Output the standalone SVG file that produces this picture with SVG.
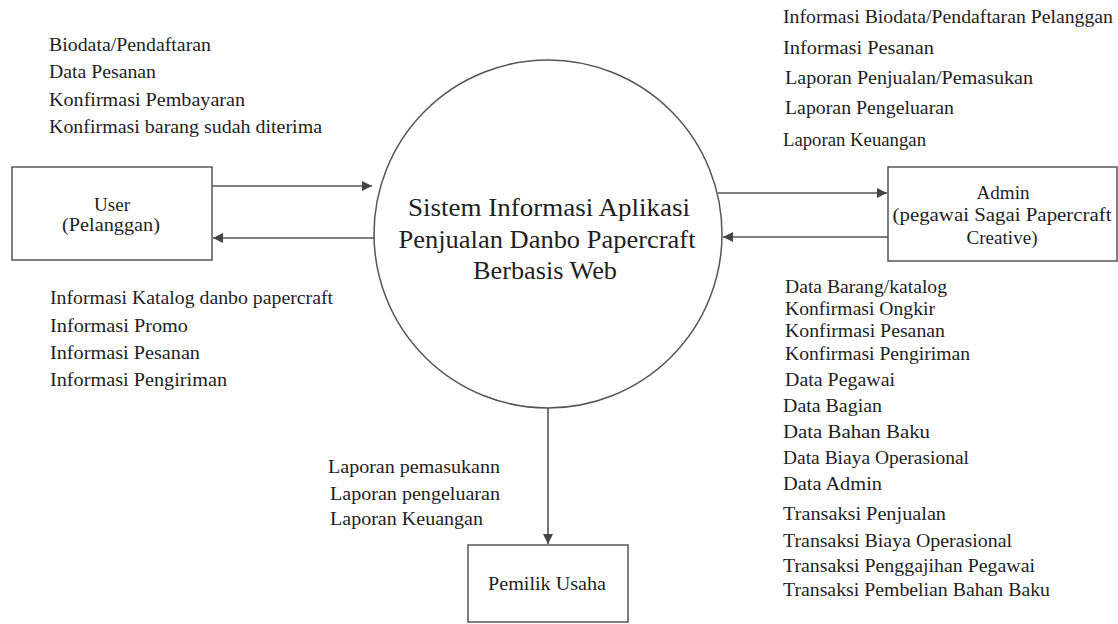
<svg xmlns="http://www.w3.org/2000/svg" width="1118" height="624" viewBox="0 0 1118 624">
  <style>
    .box { fill: #ffffff; stroke: #555555; stroke-width: 1.5; }
    .proc { fill: #ffffff; stroke: #555555; stroke-width: 1.5; }
    .flow { fill: none; stroke: #555555; stroke-width: 1.6; marker-end: url(#arrow); }
    text { font-family: "Liberation Serif", "Times New Roman", serif; fill: #1e1e1e; }
    .lbl { font-size: 19px; }
    .name { font-size: 18.5px; text-anchor: middle; }
    .title { font-size: 25px; text-anchor: middle; }
  </style>
  <defs>
    <marker id="arrow" viewBox="0 0 10 10" refX="10" refY="5" markerWidth="10" markerHeight="10" markerUnits="userSpaceOnUse" orient="auto">
      <path d="M0,0 L10,5 L0,10 z" fill="#444444"/>
    </marker>
  </defs>
  <rect width="1118" height="624" fill="#ffffff"/>

  <!-- connectors -->
  <g id="connectors">
    <line class="flow" x1="212" y1="186" x2="372" y2="186"/>
    <line class="flow" x1="374" y1="238" x2="213" y2="238"/>
    <line class="flow" x1="718" y1="193" x2="887" y2="193"/>
    <line class="flow" x1="888" y1="237" x2="723" y2="237"/>
    <line class="flow" x1="548" y1="408" x2="548" y2="544"/>
  </g>

  <!-- central process -->
  <g id="process">
    <circle class="proc" cx="548" cy="234" r="174"/>
    <text class="title" x="549" y="216" textLength="282" lengthAdjust="spacingAndGlyphs">Sistem Informasi Aplikasi</text>
    <text class="title" x="547" y="248" textLength="297" lengthAdjust="spacingAndGlyphs">Penjualan Danbo Papercraft</text>
    <text class="title" x="545" y="279" textLength="144" lengthAdjust="spacingAndGlyphs">Berbasis Web</text>
  </g>

  <!-- external entities -->
  <g id="user">
    <rect class="box" x="12" y="167" width="200" height="93"/>
    <text class="name" x="112" y="211" textLength="36" lengthAdjust="spacingAndGlyphs">User</text>
    <text class="name" x="111" y="231" textLength="98" lengthAdjust="spacingAndGlyphs">(Pelanggan)</text>
  </g>

  <g id="admin">
    <rect class="box" x="888" y="167" width="229" height="94"/>
    <text class="name" x="1003" y="199" textLength="53" lengthAdjust="spacingAndGlyphs">Admin</text>
    <text class="name" x="1002" y="221" textLength="219" lengthAdjust="spacingAndGlyphs">(pegawai Sagai Papercraft</text>
    <text class="name" x="1002" y="244" textLength="71" lengthAdjust="spacingAndGlyphs">Creative)</text>
  </g>

  <g id="pemilik">
    <rect class="box" x="468" y="545" width="160" height="77"/>
    <text class="name" x="547" y="590" textLength="118" lengthAdjust="spacingAndGlyphs">Pemilik Usaha</text>
  </g>

  <!-- data flow labels -->
  <g id="label-user-in">
    <text class="lbl" x="49" y="51" textLength="162" lengthAdjust="spacingAndGlyphs">Biodata/Pendaftaran</text>
    <text class="lbl" x="49" y="78" textLength="107" lengthAdjust="spacingAndGlyphs">Data Pesanan</text>
    <text class="lbl" x="49" y="106" textLength="196" lengthAdjust="spacingAndGlyphs">Konfirmasi Pembayaran</text>
    <text class="lbl" x="49" y="133" textLength="273" lengthAdjust="spacingAndGlyphs">Konfirmasi barang sudah diterima</text>
  </g>

  <g id="label-user-out">
    <text class="lbl" x="50" y="304" textLength="283" lengthAdjust="spacingAndGlyphs">Informasi Katalog danbo papercraft</text>
    <text class="lbl" x="50" y="332" textLength="138" lengthAdjust="spacingAndGlyphs">Informasi Promo</text>
    <text class="lbl" x="50" y="359" textLength="150" lengthAdjust="spacingAndGlyphs">Informasi Pesanan</text>
    <text class="lbl" x="50" y="386" textLength="177" lengthAdjust="spacingAndGlyphs">Informasi Pengiriman</text>
  </g>

  <g id="label-admin-out">
    <text class="lbl" x="783" y="23" textLength="330" lengthAdjust="spacingAndGlyphs">Informasi Biodata/Pendaftaran Pelanggan</text>
    <text class="lbl" x="783" y="54" textLength="151" lengthAdjust="spacingAndGlyphs">Informasi Pesanan</text>
    <text class="lbl" x="785" y="84" textLength="248" lengthAdjust="spacingAndGlyphs">Laporan Penjualan/Pemasukan</text>
    <text class="lbl" x="785" y="114" textLength="169" lengthAdjust="spacingAndGlyphs">Laporan Pengeluaran</text>
    <text class="lbl" x="783" y="146" textLength="143" lengthAdjust="spacingAndGlyphs">Laporan Keuangan</text>
  </g>

  <g id="label-admin-in">
    <text class="lbl" x="785" y="293" textLength="162" lengthAdjust="spacingAndGlyphs">Data Barang/katalog</text>
    <text class="lbl" x="785" y="315" textLength="150" lengthAdjust="spacingAndGlyphs">Konfirmasi Ongkir</text>
    <text class="lbl" x="785" y="337" textLength="160" lengthAdjust="spacingAndGlyphs">Konfirmasi Pesanan</text>
    <text class="lbl" x="785" y="360" textLength="185" lengthAdjust="spacingAndGlyphs">Konfirmasi Pengiriman</text>
    <text class="lbl" x="785" y="386" textLength="110" lengthAdjust="spacingAndGlyphs">Data Pegawai</text>
    <text class="lbl" x="783" y="412" textLength="99" lengthAdjust="spacingAndGlyphs">Data Bagian</text>
    <text class="lbl" x="783" y="438" textLength="147" lengthAdjust="spacingAndGlyphs">Data Bahan Baku</text>
    <text class="lbl" x="783" y="464" textLength="186" lengthAdjust="spacingAndGlyphs">Data Biaya Operasional</text>
    <text class="lbl" x="783" y="490" textLength="99" lengthAdjust="spacingAndGlyphs">Data Admin</text>
    <text class="lbl" x="783" y="520" textLength="163" lengthAdjust="spacingAndGlyphs">Transaksi Penjualan</text>
    <text class="lbl" x="783" y="547" textLength="229" lengthAdjust="spacingAndGlyphs">Transaksi Biaya Operasional</text>
    <text class="lbl" x="783" y="572" textLength="252" lengthAdjust="spacingAndGlyphs">Transaksi Penggajihan Pegawai</text>
    <text class="lbl" x="783" y="596" textLength="267" lengthAdjust="spacingAndGlyphs">Transaksi Pembelian Bahan Baku</text>
  </g>

  <g id="label-pemilik">
    <text class="lbl" x="328" y="473" textLength="172" lengthAdjust="spacingAndGlyphs">Laporan pemasukann</text>
    <text class="lbl" x="330" y="500" textLength="170" lengthAdjust="spacingAndGlyphs">Laporan pengeluaran</text>
    <text class="lbl" x="330" y="525" textLength="153" lengthAdjust="spacingAndGlyphs">Laporan Keuangan</text>
  </g>
</svg>
